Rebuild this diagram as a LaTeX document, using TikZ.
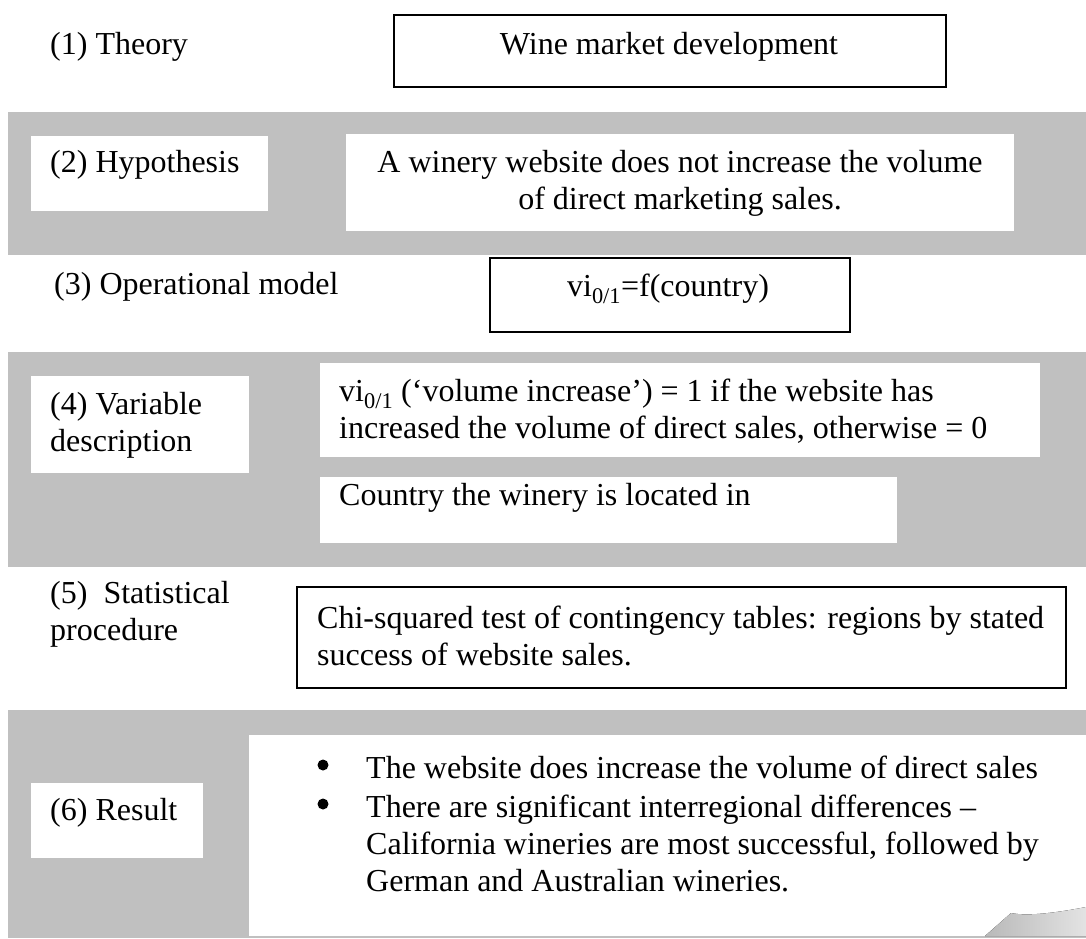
\documentclass[tikz,border=0pt]{standalone}
\usepackage{fontspec}
\setmainfont{Liberation Serif}
\definecolor{bandgray}{RGB}{192,192,192}
\begin{document}
\begin{tikzpicture}[x=1pt,y=-1pt,
  every node/.style={font=\fontsize{32}{37}\selectfont, inner sep=0pt},
  bbox/.style={draw=black, line width=1.9pt, fill=white, anchor=north west},
  wbox/.style={draw=none, fill=white, anchor=north west},
  lbl/.style={anchor=west, align=left},
  ctxt/.style={anchor=center, align=center},
  bulletdot/.style={circle, fill=black, draw=none, minimum size=11pt}]
\useasboundingbox (0,0) rectangle (1086,938);
\fill[white] (0,0) rectangle (1086,938);
% gray bands
\fill[bandgray] (8,112) rectangle (1086,255);
\fill[bandgray] (8,352) rectangle (1086,567);
\fill[bandgray] (8,710) rectangle (1086,938);

% (1) Theory
\node[lbl] (theorylbl) at (50,47) {(1) Theory};
\node[bbox, minimum width=552pt, minimum height=72pt] (theorybox) at (393,14) {};
\node[ctxt] (theorytxt) at (669,47) {Wine market development};

% (2) Hypothesis
\node[wbox, minimum width=237pt, minimum height=75pt] (hyplblbox) at (31,136) {};
\node[lbl] (hyplbl) at (50,165) {(2) Hypothesis};
\node[wbox, minimum width=668pt, minimum height=97pt] (hypbox) at (346,134) {};
\node[ctxt] (hyptxt) at (680,183) {A winery website does not increase the volume\\of direct marketing sales.};

% (3) Operational model
\node[lbl] (oplbl) at (54,287) {(3) Operational model};
\node[bbox, minimum width=360pt, minimum height=74pt] (opbox) at (489,257) {};
\node[ctxt] (optxt) at (668,289) {vi\textsubscript{0/1}=f(country)};

% (4) Variable description
\node[wbox, minimum width=218pt, minimum height=97pt] (varlblbox) at (31,376) {};
\node[lbl] (varlbl) at (50,425.5) {(4) Variable\\description};
\node[wbox, minimum width=720pt, minimum height=94pt] (varboxa) at (320,363) {};
\node[lbl] (vartxta) at (339,411.5) {vi\textsubscript{0/1} (`volume increase') = 1 if the website has\\increased the volume of direct sales, otherwise = 0};
\node[wbox, minimum width=577pt, minimum height=66pt] (varboxb) at (320,477) {};
\node[lbl] (vartxtb) at (339,498) {Country the winery is located in};

% (5) Statistical procedure
\node[lbl] (statlbl) at (50,614) {(5)\ \ Statistical\\procedure};
\node[bbox, minimum width=769pt, minimum height=101pt] (statbox) at (296,586) {};
\node[lbl] (stattxt) at (317,635.5) {Chi-squared test of contingency tables: regions by stated\\success of website sales.};

% (6) Result
\node[wbox, minimum width=172pt, minimum height=75pt] (reslblbox) at (31,783) {};
\node[lbl] (reslbl) at (50,813) {(6) Result};
\node[wbox, minimum width=837pt, minimum height=201pt] (resbox) at (249,735) {};
\fill[left color=gray!55, right color=gray!22] (985,936) -- (1011,913) .. controls (1025,916) and (1050,914) .. (1086,907) -- (1086,936) -- cycle;
\node[bulletdot] (bula) at (323,765) {};
\node[lbl] (restxta) at (366,767) {The website does increase the volume of direct sales};
\node[bulletdot] (bulb) at (323,804) {};
\node[lbl] (restxtb) at (366,843) {There are significant interregional differences --\\California wineries are most successful, followed by\\German and Australian wineries.};
\end{tikzpicture}
\end{document}
